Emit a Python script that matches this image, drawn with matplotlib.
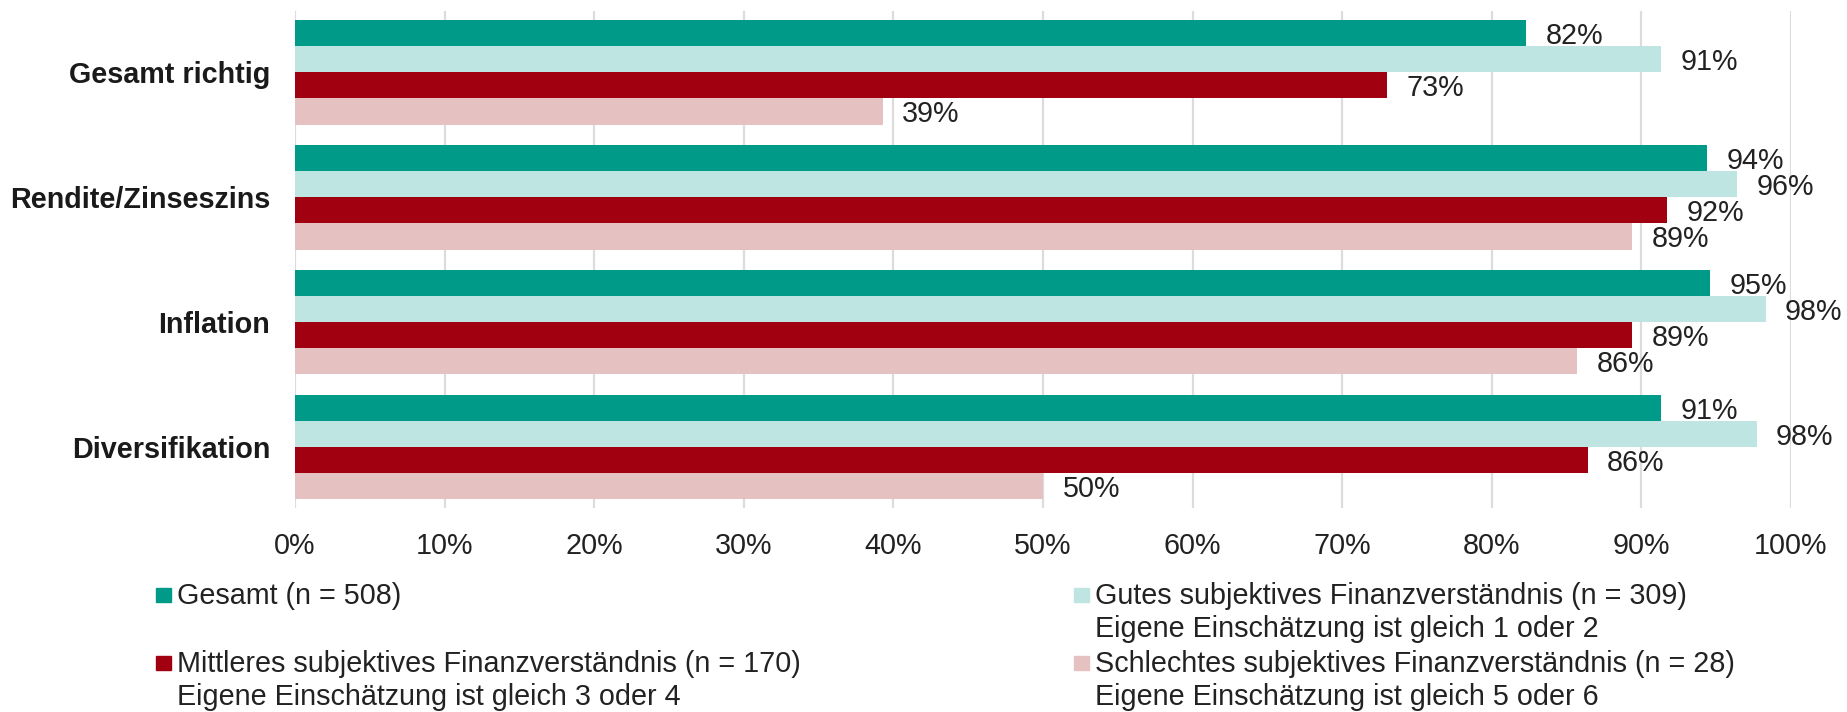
import numpy as np
import matplotlib.pyplot as plt
from matplotlib.patches import Rectangle

plt.rcParams['font.family'] = ['Liberation Sans', 'DejaVu Sans']

categories = ['Gesamt richtig', 'Rendite/Zinseszins', 'Inflation', 'Diversifikation']

# Anteil richtiger Antworten in Prozent
gesamt = [82.3, 94.4, 94.6, 91.3]
gutes = [91.3, 96.4, 98.3, 97.7]
mittleres = [73.0, 91.7, 89.4, 86.4]
schlechtes = [39.3, 89.4, 85.7, 50.0]

series_labels = [
    'Gesamt (n = 508)',
    'Gutes subjektives Finanzverständnis (n = 309)\nEigene Einschätzung ist gleich 1 oder 2',
    'Mittleres subjektives Finanzverständnis (n = 170)\nEigene Einschätzung ist gleich 3 oder 4',
    'Schlechtes subjektives Finanzverständnis (n = 28)\nEigene Einschätzung ist gleich 5 oder 6',
]
colors = ['#009A89', '#BFE5E2', '#A10010', '#E6C1C2']

x_ticks = list(range(0, 101, 10))

W, H = 1847, 712
fs = 20.7
fig = plt.figure(figsize=(W / 100, H / 100), dpi=100)
ax = fig.add_axes([295 / W, 1 - 508 / H, (1791 - 295) / W, (508 - 11) / H])

bar_h = 0.21
y = np.arange(len(categories))
text_col = '#222222'

for i, (vals, col) in enumerate(zip([gesamt, gutes, mittleres, schlechtes], colors)):
    pos = y + (i - 1.5) * bar_h
    ax.barh(pos, vals, height=bar_h, color=col, zorder=3)
    for p, v in zip(pos, vals):
        ax.annotate(f'{round(v)}%', (v, p), xytext=(14, 0), textcoords='offset points',
                    va='center_baseline', ha='left', fontsize=fs, color=text_col)

ax.set_xlim(0, 100)
ax.set_ylim(3 + 0.488, -0.488)
ax.set_xticks(x_ticks)
ax.set_xticklabels([f'{t}%' for t in x_ticks], fontsize=fs, color=text_col)
ax.set_yticks(y)
ax.set_yticklabels(categories, fontsize=fs, fontweight='bold', color='#1a1a1a')
ax.tick_params(axis='x', length=0, pad=17)
ax.tick_params(axis='y', length=0, pad=18)
ax.xaxis.grid(True, color='#DCDCDC', linewidth=1.6, zorder=0)
ax.set_axisbelow(True)
for s in ax.spines.values():
    s.set_visible(False)

# Legende in zwei Spalten, von Hand gesetzt
legend_pos = [(156, 604), (1074, 604), (156, 672), (1074, 672)]
for (lx, base), label, col in zip(legend_pos, series_labels, colors):
    fig.patches.append(Rectangle((lx / W, 1 - (base - 2) / H), 15 / W, 14 / H,
                                 transform=fig.transFigure, color=col))
    for k, line in enumerate(label.split('\n')):
        fig.text((lx + 21) / W, 1 - (base + 33 * k) / H, line, fontsize=fs,
                 color=text_col, va='baseline', ha='left')

fig.savefig('out.png', dpi=100)
